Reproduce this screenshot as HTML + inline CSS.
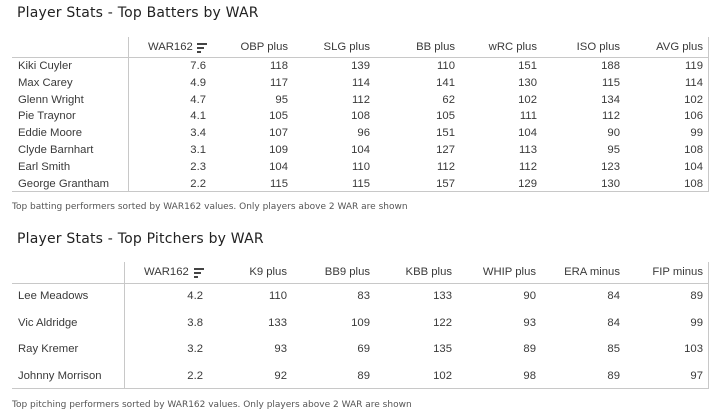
<!DOCTYPE html><html><head><meta charset="utf-8"><style>
body{margin:0;width:715px;height:416px;background:#fff;position:relative;overflow:hidden;font-family:"Liberation Sans",sans-serif;color:#3a3a3a;font-size:11.3px}
.a{position:absolute;white-space:nowrap;line-height:14px}
.t{font-family:"DejaVu Sans",cursive;font-size:14px;color:#222;letter-spacing:0.2px}
.c{font-family:"DejaVu Sans",cursive;font-size:9px;color:#555}
.h{position:absolute;background:#c8c8c8;height:1px}
.v{position:absolute;background:#c8c8c8;width:1px}
.r{text-align:right}
.ic{position:absolute}
.ic i{display:block;height:2px;background:#444;margin-bottom:2px}
</style></head><body>
<div class="a t" style="left:17px;top:6px;">Player Stats - Top Batters by WAR</div>
<div class="v" style="left:128px;top:37px;height:155px"></div>
<div class="v" style="left:708px;top:37px;height:155px"></div>
<div class="h" style="left:12px;top:57px;width:697px"></div>
<div class="h" style="left:12px;top:191px;width:697px"></div>
<div class="a c" style="left:12px;top:200px;">Top batting performers sorted by WAR162 values. Only players above 2 WAR are shown</div>
<div class="a t" style="left:17px;top:232px;">Player Stats - Top Pitchers by WAR</div>
<div class="v" style="left:124px;top:262px;height:127px"></div>
<div class="v" style="left:708px;top:262px;height:127px"></div>
<div class="h" style="left:12px;top:283px;width:697px"></div>
<div class="h" style="left:12px;top:388px;width:697px"></div>
<div class="a c" style="left:12px;top:398px;">Top pitching performers sorted by WAR162 values. Only players above 2 WAR are shown</div>

<div class="a" style="left:148px;top:40px">WAR162</div>
<div class="ic" style="left:197px;top:43px;width:10px"><i style="width:10px"></i><i style="width:7px"></i><i style="width:4px"></i></div>
<div class="a r" style="right:427px;top:40px">OBP plus</div>
<div class="a r" style="right:345px;top:40px">SLG plus</div>
<div class="a r" style="right:260px;top:40px">BB plus</div>
<div class="a r" style="right:178px;top:40px">wRC plus</div>
<div class="a r" style="right:95px;top:40px">ISO plus</div>
<div class="a r" style="right:12px;top:40px">AVG plus</div>

<div class="a" style="left:18px;top:58px;line-height:16.8px">Kiki Cuyler<br>Max Carey<br>Glenn Wright<br>Pie Traynor<br>Eddie Moore<br>Clyde Barnhart<br>Earl Smith<br>George Grantham</div>
<div class="a r" style="right:509px;top:58px;line-height:16.8px">7.6<br>4.9<br>4.7<br>4.1<br>3.4<br>3.1<br>2.3<br>2.2</div>
<div class="a r" style="right:427px;top:58px;line-height:16.8px">118<br>117<br>95<br>105<br>107<br>109<br>104<br>115</div>
<div class="a r" style="right:345px;top:58px;line-height:16.8px">139<br>114<br>112<br>108<br>96<br>104<br>110<br>115</div>
<div class="a r" style="right:260px;top:58px;line-height:16.8px">110<br>141<br>62<br>105<br>151<br>127<br>112<br>157</div>
<div class="a r" style="right:178px;top:58px;line-height:16.8px">151<br>130<br>102<br>111<br>104<br>113<br>112<br>129</div>
<div class="a r" style="right:95px;top:58px;line-height:16.8px">188<br>115<br>134<br>112<br>90<br>95<br>123<br>130</div>
<div class="a r" style="right:12px;top:58px;line-height:16.8px">119<br>114<br>102<br>106<br>99<br>108<br>104<br>108</div>

<div class="a" style="left:144px;top:265px">WAR162</div>
<div class="ic" style="left:194px;top:268px;width:10px"><i style="width:10px"></i><i style="width:7px"></i><i style="width:4px"></i></div>
<div class="a r" style="right:428px;top:265px">K9 plus</div>
<div class="a r" style="right:345px;top:265px">BB9 plus</div>
<div class="a r" style="right:263px;top:265px">KBB plus</div>
<div class="a r" style="right:179px;top:265px">WHIP plus</div>
<div class="a r" style="right:95px;top:265px">ERA minus</div>
<div class="a r" style="right:12px;top:265px">FIP minus</div>

<div class="a" style="left:18px;top:283px;line-height:26.7px">Lee Meadows<br>Vic Aldridge<br>Ray Kremer<br>Johnny Morrison</div>
<div class="a r" style="right:512px;top:283px;line-height:26.7px">4.2<br>3.8<br>3.2<br>2.2</div>
<div class="a r" style="right:428px;top:283px;line-height:26.7px">110<br>133<br>93<br>92</div>
<div class="a r" style="right:345px;top:283px;line-height:26.7px">83<br>109<br>69<br>89</div>
<div class="a r" style="right:263px;top:283px;line-height:26.7px">133<br>122<br>135<br>102</div>
<div class="a r" style="right:179px;top:283px;line-height:26.7px">90<br>93<br>89<br>98</div>
<div class="a r" style="right:95px;top:283px;line-height:26.7px">84<br>84<br>85<br>89</div>
<div class="a r" style="right:12px;top:283px;line-height:26.7px">89<br>99<br>103<br>97</div>
</body></html>
